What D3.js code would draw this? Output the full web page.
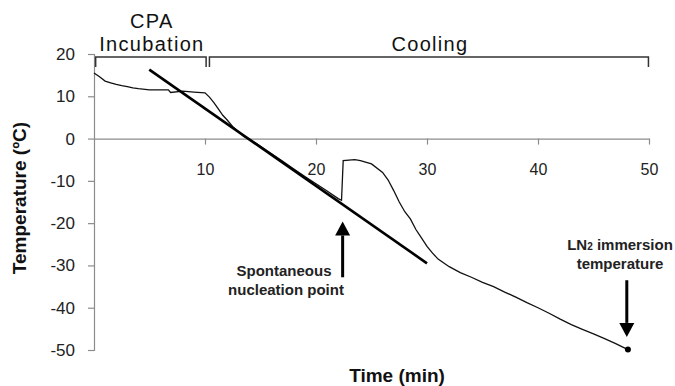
<!DOCTYPE html>
<html>
<head>
<meta charset="utf-8">
<script src="https://cdn.jsdelivr.net/npm/d3@7"></script>
<style>
  body { margin: 0; background: #fff; }
  svg { font-family: "Liberation Sans", Arial, sans-serif; }
</style>
</head>
<body>
<svg id="chart" width="675" height="386"></svg>
<script>
// Temperature record
const timeMin = [0, 0.5, 1, 1.5, 2, 2.5, 3, 3.5, 4, 5, 6, 6.7, 6.9, 8, 9, 10, 10.4, 10.8, 11.2, 11.6, 12, 12.5, 13, 13.5, 14,
    15, 16, 17, 18, 19, 20, 21, 22, 22.3, 22.45, 23.5, 24, 25, 26, 26.5, 27, 27.5, 28, 28.5, 29, 29.5, 30, 30.5, 31,
    32, 33, 34, 35, 36, 37, 38, 39, 40, 41, 42, 43, 44, 45, 46, 47, 48.1];
const tempC = [15.5, 14.6, 13.6, 13.2, 12.8, 12.5, 12.3, 12.0, 11.8, 11.5, 11.5, 11.5, 10.9, 11.2, 11.0, 10.8, 9.8, 8.5, 7.0, 5.5, 4.4, 2.8, 1.7, 0.5, -0.1,
    -1.8, -3.6, -5.4, -7.2, -9.0, -10.7, -12.4, -14.2, -14.6, -5.2, -5.0, -5.2, -6.0, -8.0, -9.8, -12.3, -15.0, -17.3, -19.0, -21.5, -23.5, -25.5, -27.1, -28.5,
    -30.3, -31.7, -32.8, -34.0, -35.0, -36.3, -37.5, -38.8, -40.0, -41.3, -42.7, -44.0, -45.1, -46.2, -47.3, -48.5, -49.9];

// Fitted cooling line
const fitTime = [4.98, 30];
const fitTemp = [16.3, -29.5];

const xTicks = [10, 20, 30, 40, 50];
const yTicks = [20, 10, 0, -10, -20, -30, -40, -50];

// Phase brackets
const phases = [
    { label: ["CPA", "Incubation"], start: 0.15, end: 10.1 },
    { label: ["Cooling"], start: 10.4, end: 49.95 }
];

const svg = d3.select('#chart');
const x = d3.scaleLinear().domain([0, 50]).range([94, 649]);
const y = d3.scaleLinear().domain([-50, 20]).range([350, 54]);

// Y axis
const yAxis = svg.append('g')
    .attr('transform', `translate(${x(0)},0)`)
    .call(d3.axisLeft(y).tickValues(yTicks).tickFormat(d => String(d)).tickSize(6).tickPadding(13));
yAxis.select('.domain').attr('stroke', '#8c8c8c').attr('stroke-width', 1.2);
yAxis.selectAll('.tick line').attr('stroke', '#8c8c8c').attr('stroke-width', 1.2);
yAxis.selectAll('.tick text').attr('font-size', 17).attr('fill', '#222')
    .attr('font-family', '"Liberation Sans", Arial, sans-serif');

// X axis at y = 0
const xAxis = svg.append('g')
    .attr('transform', `translate(0,${y(0)})`)
    .call(d3.axisBottom(x).tickValues(xTicks).tickSize(6).tickSizeOuter(0).tickPadding(19));
xAxis.select('.domain').attr('stroke', '#8c8c8c').attr('stroke-width', 1.2);
xAxis.selectAll('.tick line').attr('stroke', '#8c8c8c').attr('stroke-width', 1.2);
xAxis.selectAll('.tick text').attr('font-size', 16).attr('fill', '#222')
    .attr('font-family', '"Liberation Sans", Arial, sans-serif');

// Axis titles
svg.append('text')
    .attr('transform', `translate(26,${198}) rotate(-90)`)
    .attr('text-anchor', 'middle')
    .attr('font-size', 19).attr('font-weight', 'bold').attr('fill', '#111')
    .text('Temperature (ºC)');
svg.append('text')
    .attr('x', 397).attr('y', 382)
    .attr('text-anchor', 'middle')
    .attr('font-size', 19).attr('font-weight', 'bold').attr('fill', '#111')
    .text('Time (min)');

// Brackets
const bracketY = 57;
phases.forEach(p => {
    svg.append('path')
        .attr('d', `M${x(p.start)},${bracketY + 10}V${bracketY}H${x(p.end)}V${bracketY + 10}`)
        .attr('fill', 'none').attr('stroke', '#333').attr('stroke-width', 1.5);
    const cx = (x(p.start) + x(p.end)) / 2;
    const lines = p.label;
    lines.forEach((t, i) => {
        svg.append('text')
            .attr('x', cx + 1).attr('y', bracketY - 6 - (lines.length - 1 - i) * 23)
            .attr('text-anchor', 'middle')
            .attr('font-size', 20).attr('letter-spacing', 1.3).attr('fill', '#111')
            .text(t);
    });
});

// Temperature curve
const pts = timeMin.map((t, i) => [t, tempC[i]]);
svg.append('path')
    .datum(pts)
    .attr('fill', 'none').attr('stroke', '#111').attr('stroke-width', 1.3)
    .attr('d', d3.line().x(d => x(d[0])).y(d => y(d[1])));

// Fit line
svg.append('path')
    .datum(fitTime.map((t, i) => [t, fitTemp[i]]))
    .attr('fill', 'none').attr('stroke', '#000').attr('stroke-width', 2.6)
    .attr('d', d3.line().x(d => x(d[0])).y(d => y(d[1])));

// End point
const last = pts[pts.length - 1];
svg.append('circle')
    .attr('cx', x(last[0])).attr('cy', y(last[1])).attr('r', 3).attr('fill', '#000');

// Arrows
function arrow(t, fromT, tipT) {
    const ax = x(t), y0 = y(fromT), y1 = y(tipT);
    const dir = y1 > y0 ? 1 : -1;
    const head = 14;
    svg.append('line')
        .attr('x1', ax).attr('x2', ax).attr('y1', y0).attr('y2', y1 - dir * head)
        .attr('stroke', '#000').attr('stroke-width', 3);
    svg.append('path')
        .attr('d', `M${ax},${y1}L${ax - 7.5},${y1 - dir * head}L${ax + 7.5},${y1 - dir * head}Z`)
        .attr('fill', '#000');
}
arrow(22.4, -32.8, -19.6);
arrow(48.0, -33.5, -46.9);

// Annotation labels
const note = (px, py, txt) => svg.append('text')
    .attr('x', px).attr('y', py).attr('text-anchor', 'middle')
    .attr('font-size', 15).attr('font-weight', 'bold').attr('fill', '#222')
    .text(txt);
note(284, 276, 'Spontaneous');
note(286, 295, 'nucleation point');

const ln = svg.append('text')
    .attr('x', 620).attr('y', 250).attr('text-anchor', 'middle')
    .attr('font-size', 15).attr('font-weight', 'bold').attr('fill', '#222');
ln.append('tspan').text('LN');
ln.append('tspan').attr('font-size', 10).text('2');
ln.append('tspan').text(' immersion');
note(620, 269, 'temperature');
</script>
</body>
</html>
